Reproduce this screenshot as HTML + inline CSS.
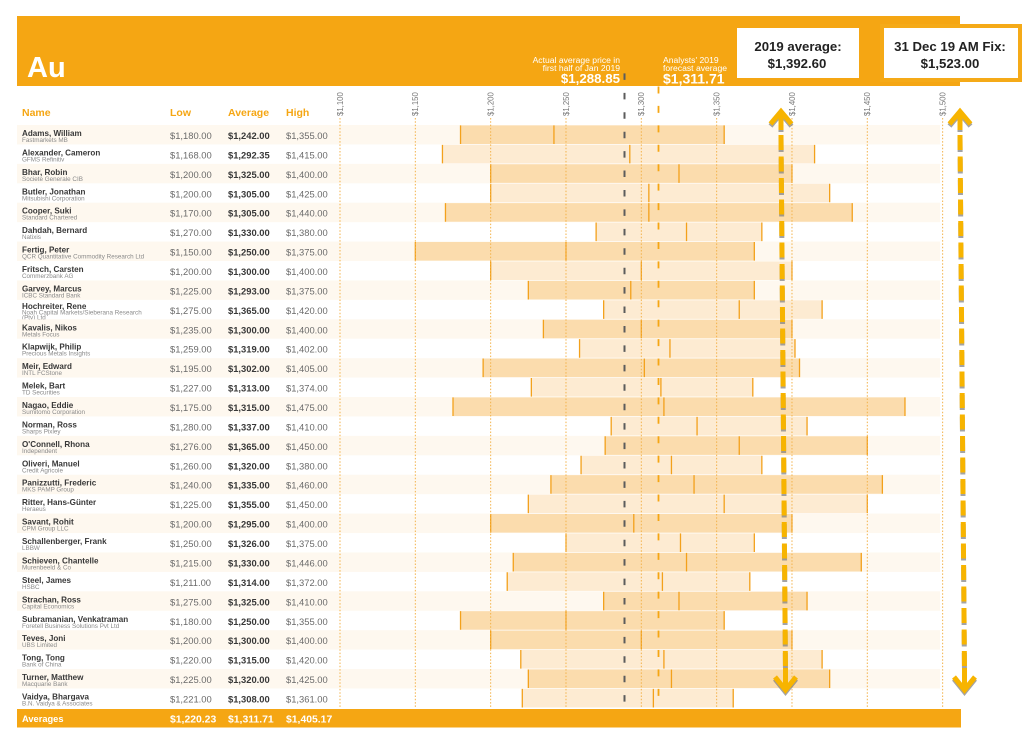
<!DOCTYPE html>
<html><head><meta charset="utf-8"><style>
html,body{margin:0;padding:0;background:#fff}
svg{display:block}
.bg{fill:#fef8ef}
.bd{fill:#fbdcad}
.bl{fill:#fdebd2}
.ln{stroke:#f3a11c;stroke-width:1.3;fill:none}
.nm{font-weight:bold;font-size:8.1px;fill:#383838}
.co{font-size:6.3px;fill:#8a8a8a}
.v{font-size:9.4px;fill:#6a6a6a}
.va{font-size:9.4px;font-weight:bold;fill:#383838}
.hd{font-size:10.5px;font-weight:bold;fill:#f5a613}
.tk{font-size:7.8px;fill:#777}
.tl{stroke:#f3b24a;stroke-width:1;stroke-dasharray:1.5 1.8}
.av{font-size:10.4px;font-weight:bold;fill:#fff}
</style></head><body>
<svg width="1024" height="738" viewBox="0 0 1024 738" font-family="'Liberation Sans', Arial, sans-serif">
<!-- header band -->
<rect x="17" y="16" width="943" height="70" fill="#f5a613"/>
<text x="27" y="77" font-size="29" font-weight="bold" fill="#fff">Au</text>
<text x="620" y="63" font-size="8.6" fill="#fff" text-anchor="end">Actual average price in</text>
<text x="620" y="71" font-size="8.6" fill="#fff" text-anchor="end">first half of Jan 2019</text>
<text x="620" y="83" font-size="13.3" font-weight="bold" fill="#fff" text-anchor="end">$1,288.85</text>
<text x="663" y="63" font-size="8.6" fill="#fff">Analysts' 2019</text>
<text x="663" y="71" font-size="8.6" fill="#fff">forecast average</text>
<text x="663" y="83.5" font-size="14" font-weight="bold" fill="#fff">$1,311.71</text>
<rect x="735" y="26" width="126" height="54" fill="#fff" stroke="#f5a613" stroke-width="4"/>
<text x="798" y="51" font-size="13.2" font-weight="bold" fill="#222" text-anchor="middle">2019 average:</text>
<text x="797" y="68" font-size="13.2" font-weight="bold" fill="#222" text-anchor="middle">$1,392.60</text>
<rect x="882" y="26" width="138" height="54" fill="#fff" stroke="#f5aa18" stroke-width="4"/>
<text x="950" y="51" font-size="13.2" font-weight="bold" fill="#222" text-anchor="middle">31 Dec 19 AM Fix:</text>
<text x="950" y="68" font-size="13.2" font-weight="bold" fill="#222" text-anchor="middle">$1,523.00</text>

<!-- column headers -->
<text class="hd" x="22" y="116">Name</text>
<text class="hd" x="170" y="116">Low</text>
<text class="hd" x="228" y="116">Average</text>
<text class="hd" x="286" y="116">High</text>

<!-- rows -->
<g transform="translate(0,125)"><rect class="bg" x="17" width="923" height="19.43"/><rect class="bd" x="460.53" y=".4" width="263.65" height="18.6"/><path class="ln" d="M460.53 .4v18.6M553.94 .4v18.6M724.18 .4v18.6"/><text class="nm" x="22" y="11">Adams, William</text><text class="co" x="22" y="17">Fastmarkets MB</text><text class="v" x="170" y="14">$1,180.00</text><text class="va" x="228" y="14">$1,242.00</text><text class="v" x="286" y="14">$1,355.00</text></g>
<g transform="translate(0,144.43)"><rect class="bl" x="442.45" y=".4" width="372.13" height="18.6"/><path class="ln" d="M442.45 .4v18.6M629.8 .4v18.6M814.58 .4v18.6"/><text class="nm" x="22" y="11">Alexander, Cameron</text><text class="co" x="22" y="17">GFMS Refinitiv</text><text class="v" x="170" y="14">$1,168.00</text><text class="va" x="228" y="14">$1,292.35</text><text class="v" x="286" y="14">$1,415.00</text></g>
<g transform="translate(0,163.86)"><rect class="bg" x="17" width="923" height="19.43"/><rect class="bd" x="490.66" y=".4" width="301.32" height="18.6"/><path class="ln" d="M490.66 .4v18.6M678.99 .4v18.6M791.98 .4v18.6"/><text class="nm" x="22" y="11">Bhar, Robin</text><text class="co" x="22" y="17">Societe Generale CIB</text><text class="v" x="170" y="14">$1,200.00</text><text class="va" x="228" y="14">$1,325.00</text><text class="v" x="286" y="14">$1,400.00</text></g>
<g transform="translate(0,183.29)"><rect class="bl" x="490.66" y=".4" width="338.99" height="18.6"/><path class="ln" d="M490.66 .4v18.6M648.85 .4v18.6M829.65 .4v18.6"/><text class="nm" x="22" y="11">Butler, Jonathan</text><text class="co" x="22" y="17">Mitsubishi Corporation</text><text class="v" x="170" y="14">$1,200.00</text><text class="va" x="228" y="14">$1,305.00</text><text class="v" x="286" y="14">$1,425.00</text></g>
<g transform="translate(0,202.72)"><rect class="bg" x="17" width="923" height="19.43"/><rect class="bd" x="445.46" y=".4" width="406.78" height="18.6"/><path class="ln" d="M445.46 .4v18.6M648.85 .4v18.6M852.24 .4v18.6"/><text class="nm" x="22" y="11">Cooper, Suki</text><text class="co" x="22" y="17">Standard Chartered</text><text class="v" x="170" y="14">$1,170.00</text><text class="va" x="228" y="14">$1,305.00</text><text class="v" x="286" y="14">$1,440.00</text></g>
<g transform="translate(0,222.15)"><rect class="bl" x="596.12" y=".4" width="165.73" height="18.6"/><path class="ln" d="M596.12 .4v18.6M686.52 .4v18.6M761.85 .4v18.6"/><text class="nm" x="22" y="11">Dahdah, Bernard</text><text class="co" x="22" y="17">Natixis</text><text class="v" x="170" y="14">$1,270.00</text><text class="va" x="228" y="14">$1,330.00</text><text class="v" x="286" y="14">$1,380.00</text></g>
<g transform="translate(0,241.58)"><rect class="bg" x="17" width="923" height="19.43"/><rect class="bd" x="415.33" y=".4" width="338.99" height="18.6"/><path class="ln" d="M415.33 .4v18.6M565.99 .4v18.6M754.32 .4v18.6"/><text class="nm" x="22" y="11">Fertig, Peter</text><text class="co" x="22" y="17">QCR Quantitative Commodity Research Ltd</text><text class="v" x="170" y="14">$1,150.00</text><text class="va" x="228" y="14">$1,250.00</text><text class="v" x="286" y="14">$1,375.00</text></g>
<g transform="translate(0,261.01)"><rect class="bl" x="490.66" y=".4" width="301.32" height="18.6"/><path class="ln" d="M490.66 .4v18.6M641.32 .4v18.6M791.98 .4v18.6"/><text class="nm" x="22" y="11">Fritsch, Carsten</text><text class="co" x="22" y="17">Commerzbank AG</text><text class="v" x="170" y="14">$1,200.00</text><text class="va" x="228" y="14">$1,300.00</text><text class="v" x="286" y="14">$1,400.00</text></g>
<g transform="translate(0,280.44)"><rect class="bg" x="17" width="923" height="19.43"/><rect class="bd" x="528.33" y=".4" width="225.99" height="18.6"/><path class="ln" d="M528.33 .4v18.6M630.77 .4v18.6M754.32 .4v18.6"/><text class="nm" x="22" y="11">Garvey, Marcus</text><text class="co" x="22" y="17">ICBC Standard Bank</text><text class="v" x="170" y="14">$1,225.00</text><text class="va" x="228" y="14">$1,293.00</text><text class="v" x="286" y="14">$1,375.00</text></g>
<g transform="translate(0,299.87)"><rect class="bl" x="603.66" y=".4" width="218.45" height="18.6"/><path class="ln" d="M603.66 .4v18.6M739.25 .4v18.6M822.11 .4v18.6"/><text class="nm" x="22" y="9.3">Hochreiter, Rene</text><text class="co" x="22" y="14.6">Noah Capital Markets/Sieberana Research</text><text class="co" x="22" y="19.6">(Pty) Ltd</text><text class="v" x="170" y="14">$1,275.00</text><text class="va" x="228" y="14">$1,365.00</text><text class="v" x="286" y="14">$1,420.00</text></g>
<g transform="translate(0,319.3)"><rect class="bg" x="17" width="923" height="19.43"/><rect class="bd" x="543.39" y=".4" width="248.59" height="18.6"/><path class="ln" d="M543.39 .4v18.6M641.32 .4v18.6M791.98 .4v18.6"/><text class="nm" x="22" y="11">Kavalis, Nikos</text><text class="co" x="22" y="17">Metals Focus</text><text class="v" x="170" y="14">$1,235.00</text><text class="va" x="228" y="14">$1,300.00</text><text class="v" x="286" y="14">$1,400.00</text></g>
<g transform="translate(0,338.73)"><rect class="bl" x="579.55" y=".4" width="215.44" height="18.6"/><path class="ln" d="M579.55 .4v18.6M669.95 .4v18.6M794.99 .4v18.6"/><text class="nm" x="22" y="11">Klapwijk, Philip</text><text class="co" x="22" y="17">Precious Metals Insights</text><text class="v" x="170" y="14">$1,259.00</text><text class="va" x="228" y="14">$1,319.00</text><text class="v" x="286" y="14">$1,402.00</text></g>
<g transform="translate(0,358.16)"><rect class="bg" x="17" width="923" height="19.43"/><rect class="bd" x="483.13" y=".4" width="316.38" height="18.6"/><path class="ln" d="M483.13 .4v18.6M644.33 .4v18.6M799.51 .4v18.6"/><text class="nm" x="22" y="11">Meir, Edward</text><text class="co" x="22" y="17">INTL FCStone</text><text class="v" x="170" y="14">$1,195.00</text><text class="va" x="228" y="14">$1,302.00</text><text class="v" x="286" y="14">$1,405.00</text></g>
<g transform="translate(0,377.59)"><rect class="bl" x="531.34" y=".4" width="221.47" height="18.6"/><path class="ln" d="M531.34 .4v18.6M660.91 .4v18.6M752.81 .4v18.6"/><text class="nm" x="22" y="11">Melek, Bart</text><text class="co" x="22" y="17">TD Securities</text><text class="v" x="170" y="14">$1,227.00</text><text class="va" x="228" y="14">$1,313.00</text><text class="v" x="286" y="14">$1,374.00</text></g>
<g transform="translate(0,397.02)"><rect class="bg" x="17" width="923" height="19.43"/><rect class="bd" x="453" y=".4" width="451.98" height="18.6"/><path class="ln" d="M453 .4v18.6M663.92 .4v18.6M904.98 .4v18.6"/><text class="nm" x="22" y="11">Nagao, Eddie</text><text class="co" x="22" y="17">Sumitomo Corporation</text><text class="v" x="170" y="14">$1,175.00</text><text class="va" x="228" y="14">$1,315.00</text><text class="v" x="286" y="14">$1,475.00</text></g>
<g transform="translate(0,416.45)"><rect class="bl" x="611.19" y=".4" width="195.86" height="18.6"/><path class="ln" d="M611.19 .4v18.6M697.06 .4v18.6M807.05 .4v18.6"/><text class="nm" x="22" y="11">Norman, Ross</text><text class="co" x="22" y="17">Sharps Pixley</text><text class="v" x="170" y="14">$1,280.00</text><text class="va" x="228" y="14">$1,337.00</text><text class="v" x="286" y="14">$1,410.00</text></g>
<g transform="translate(0,435.88)"><rect class="bg" x="17" width="923" height="19.43"/><rect class="bd" x="605.16" y=".4" width="262.15" height="18.6"/><path class="ln" d="M605.16 .4v18.6M739.25 .4v18.6M867.31 .4v18.6"/><text class="nm" x="22" y="11">O'Connell, Rhona</text><text class="co" x="22" y="17">Independent</text><text class="v" x="170" y="14">$1,276.00</text><text class="va" x="228" y="14">$1,365.00</text><text class="v" x="286" y="14">$1,450.00</text></g>
<g transform="translate(0,455.31)"><rect class="bl" x="581.06" y=".4" width="180.79" height="18.6"/><path class="ln" d="M581.06 .4v18.6M671.45 .4v18.6M761.85 .4v18.6"/><text class="nm" x="22" y="11">Oliveri, Manuel</text><text class="co" x="22" y="17">Credit Agricole</text><text class="v" x="170" y="14">$1,260.00</text><text class="va" x="228" y="14">$1,320.00</text><text class="v" x="286" y="14">$1,380.00</text></g>
<g transform="translate(0,474.74)"><rect class="bg" x="17" width="923" height="19.43"/><rect class="bd" x="550.92" y=".4" width="331.46" height="18.6"/><path class="ln" d="M550.92 .4v18.6M694.05 .4v18.6M882.38 .4v18.6"/><text class="nm" x="22" y="11">Panizzutti, Frederic</text><text class="co" x="22" y="17">MKS PAMP Group</text><text class="v" x="170" y="14">$1,240.00</text><text class="va" x="228" y="14">$1,335.00</text><text class="v" x="286" y="14">$1,460.00</text></g>
<g transform="translate(0,494.17)"><rect class="bl" x="528.33" y=".4" width="338.98" height="18.6"/><path class="ln" d="M528.33 .4v18.6M724.18 .4v18.6M867.31 .4v18.6"/><text class="nm" x="22" y="11">Ritter, Hans-Günter</text><text class="co" x="22" y="17">Heraeus</text><text class="v" x="170" y="14">$1,225.00</text><text class="va" x="228" y="14">$1,355.00</text><text class="v" x="286" y="14">$1,450.00</text></g>
<g transform="translate(0,513.6)"><rect class="bg" x="17" width="923" height="19.43"/><rect class="bd" x="490.66" y=".4" width="301.32" height="18.6"/><path class="ln" d="M490.66 .4v18.6M633.79 .4v18.6M791.98 .4v18.6"/><text class="nm" x="22" y="11">Savant, Rohit</text><text class="co" x="22" y="17">CPM Group LLC</text><text class="v" x="170" y="14">$1,200.00</text><text class="va" x="228" y="14">$1,295.00</text><text class="v" x="286" y="14">$1,400.00</text></g>
<g transform="translate(0,533.03)"><rect class="bl" x="565.99" y=".4" width="188.33" height="18.6"/><path class="ln" d="M565.99 .4v18.6M680.49 .4v18.6M754.32 .4v18.6"/><text class="nm" x="22" y="11">Schallenberger, Frank</text><text class="co" x="22" y="17">LBBW</text><text class="v" x="170" y="14">$1,250.00</text><text class="va" x="228" y="14">$1,326.00</text><text class="v" x="286" y="14">$1,375.00</text></g>
<g transform="translate(0,552.46)"><rect class="bg" x="17" width="923" height="19.43"/><rect class="bd" x="513.26" y=".4" width="348.02" height="18.6"/><path class="ln" d="M513.26 .4v18.6M686.52 .4v18.6M861.28 .4v18.6"/><text class="nm" x="22" y="11">Schieven, Chantelle</text><text class="co" x="22" y="17">Murenbeeld &amp; Co</text><text class="v" x="170" y="14">$1,215.00</text><text class="va" x="228" y="14">$1,330.00</text><text class="v" x="286" y="14">$1,446.00</text></g>
<g transform="translate(0,571.89)"><rect class="bl" x="507.23" y=".4" width="242.57" height="18.6"/><path class="ln" d="M507.23 .4v18.6M662.41 .4v18.6M749.8 .4v18.6"/><text class="nm" x="22" y="11">Steel, James</text><text class="co" x="22" y="17">HSBC</text><text class="v" x="170" y="14">$1,211.00</text><text class="va" x="228" y="14">$1,314.00</text><text class="v" x="286" y="14">$1,372.00</text></g>
<g transform="translate(0,591.32)"><rect class="bg" x="17" width="923" height="19.43"/><rect class="bd" x="603.66" y=".4" width="203.39" height="18.6"/><path class="ln" d="M603.66 .4v18.6M678.99 .4v18.6M807.05 .4v18.6"/><text class="nm" x="22" y="11">Strachan, Ross</text><text class="co" x="22" y="17">Capital Economics</text><text class="v" x="170" y="14">$1,275.00</text><text class="va" x="228" y="14">$1,325.00</text><text class="v" x="286" y="14">$1,410.00</text></g>
<g transform="translate(0,610.75)"><rect class="bd" x="460.53" y=".4" width="263.65" height="18.6"/><path class="ln" d="M460.53 .4v18.6M565.99 .4v18.6M724.18 .4v18.6"/><text class="nm" x="22" y="11">Subramanian, Venkatraman</text><text class="co" x="22" y="17">Foretell Business Solutions Pvt Ltd</text><text class="v" x="170" y="14">$1,180.00</text><text class="va" x="228" y="14">$1,250.00</text><text class="v" x="286" y="14">$1,355.00</text></g>
<g transform="translate(0,630.18)"><rect class="bg" x="17" width="923" height="19.43"/><rect class="bd" x="490.66" y=".4" width="301.32" height="18.6"/><path class="ln" d="M490.66 .4v18.6M641.32 .4v18.6M791.98 .4v18.6"/><text class="nm" x="22" y="11">Teves, Joni</text><text class="co" x="22" y="17">UBS Limited</text><text class="v" x="170" y="14">$1,200.00</text><text class="va" x="228" y="14">$1,300.00</text><text class="v" x="286" y="14">$1,400.00</text></g>
<g transform="translate(0,649.61)"><rect class="bl" x="520.79" y=".4" width="301.32" height="18.6"/><path class="ln" d="M520.79 .4v18.6M663.92 .4v18.6M822.11 .4v18.6"/><text class="nm" x="22" y="11">Tong, Tong</text><text class="co" x="22" y="17">Bank of China</text><text class="v" x="170" y="14">$1,220.00</text><text class="va" x="228" y="14">$1,315.00</text><text class="v" x="286" y="14">$1,420.00</text></g>
<g transform="translate(0,669.04)"><rect class="bg" x="17" width="923" height="19.43"/><rect class="bd" x="528.33" y=".4" width="301.32" height="18.6"/><path class="ln" d="M528.33 .4v18.6M671.45 .4v18.6M829.65 .4v18.6"/><text class="nm" x="22" y="11">Turner, Matthew</text><text class="co" x="22" y="17">Macquarie Bank</text><text class="v" x="170" y="14">$1,225.00</text><text class="va" x="228" y="14">$1,320.00</text><text class="v" x="286" y="14">$1,425.00</text></g>
<g transform="translate(0,688.47)"><rect class="bl" x="522.3" y=".4" width="210.92" height="18.6"/><path class="ln" d="M522.3 .4v18.6M653.37 .4v18.6M733.22 .4v18.6"/><text class="nm" x="22" y="11">Vaidya, Bhargava</text><text class="co" x="22" y="17">B.N. Vaidya &amp; Associates</text><text class="v" x="170" y="14">$1,221.00</text><text class="va" x="228" y="14">$1,308.00</text><text class="v" x="286" y="14">$1,361.00</text></g>

<!-- tick lines & labels -->
<path class="tl" d="M340 118V708M415.33 118V708M490.66 118V708M565.99 118V708M641.32 118V708M716.65 118V708M791.98 118V708M867.31 118V708M942.64 118V708"/>
<text class="tk" transform="translate(342.8,116) rotate(-90)">$1,100</text>
<text class="tk" transform="translate(418.1,116) rotate(-90)">$1,150</text>
<text class="tk" transform="translate(493.4,116) rotate(-90)">$1,200</text>
<text class="tk" transform="translate(568.8,116) rotate(-90)">$1,250</text>
<text class="tk" transform="translate(644.1,116) rotate(-90)">$1,300</text>
<text class="tk" transform="translate(719.4,116) rotate(-90)">$1,350</text>
<text class="tk" transform="translate(794.8,116) rotate(-90)">$1,400</text>
<text class="tk" transform="translate(870.1,116) rotate(-90)">$1,450</text>
<text class="tk" transform="translate(945.4,116) rotate(-90)">$1,500</text>

<!-- reference dashed lines -->
<line x1="624.5" y1="73.4" x2="624.5" y2="708" stroke="#5c5c5c" stroke-width="2" stroke-dasharray="6.5 12.93"/>
<line x1="658.5" y1="86.5" x2="658.5" y2="708" stroke="#f5a613" stroke-width="1.8" stroke-dasharray="7 12.43"/>

<!-- averages bar -->
<rect x="17" y="709" width="944" height="18.5" fill="#f5a613"/>
<text x="22" y="722" font-size="9.3" font-weight="bold" fill="#fff">Averages</text>
<text class="av" x="170" y="722.5">$1,220.23</text>
<text class="av" x="228" y="722.5">$1,311.71</text>
<text class="av" x="286" y="722.5">$1,405.17</text>

<!-- arrows -->
<g fill="none" stroke-width="5">
  <g stroke="#7d7d7d" opacity="0.7" transform="translate(0,2)">
    <path d="M770.5 124L781 111.5L791.5 124M781 112V130"/>
    <line x1="781" y1="135" x2="785.5" y2="672" stroke-dasharray="15 6.5"/>
    <path d="M775 677L785.5 690L796 677M785.5 668V689"/>
    <path d="M949.5 124L960 111.5L970.5 124M960 112V130"/>
    <line x1="960" y1="135" x2="964.5" y2="672" stroke-dasharray="15 6.5"/>
    <path d="M954 677L964.5 690L975 677M964.5 668V689"/>
  </g>
  <g stroke="#f7b400">
    <path d="M770.5 124L781 111.5L791.5 124M781 112V130"/>
    <line x1="781" y1="135" x2="785.5" y2="672" stroke-dasharray="15 6.5"/>
    <path d="M775 677L785.5 690L796 677M785.5 668V689"/>
    <path d="M949.5 124L960 111.5L970.5 124M960 112V130"/>
    <line x1="960" y1="135" x2="964.5" y2="672" stroke-dasharray="15 6.5"/>
    <path d="M954 677L964.5 690L975 677M964.5 668V689"/>
  </g>
</g>
</svg>
</body></html>
